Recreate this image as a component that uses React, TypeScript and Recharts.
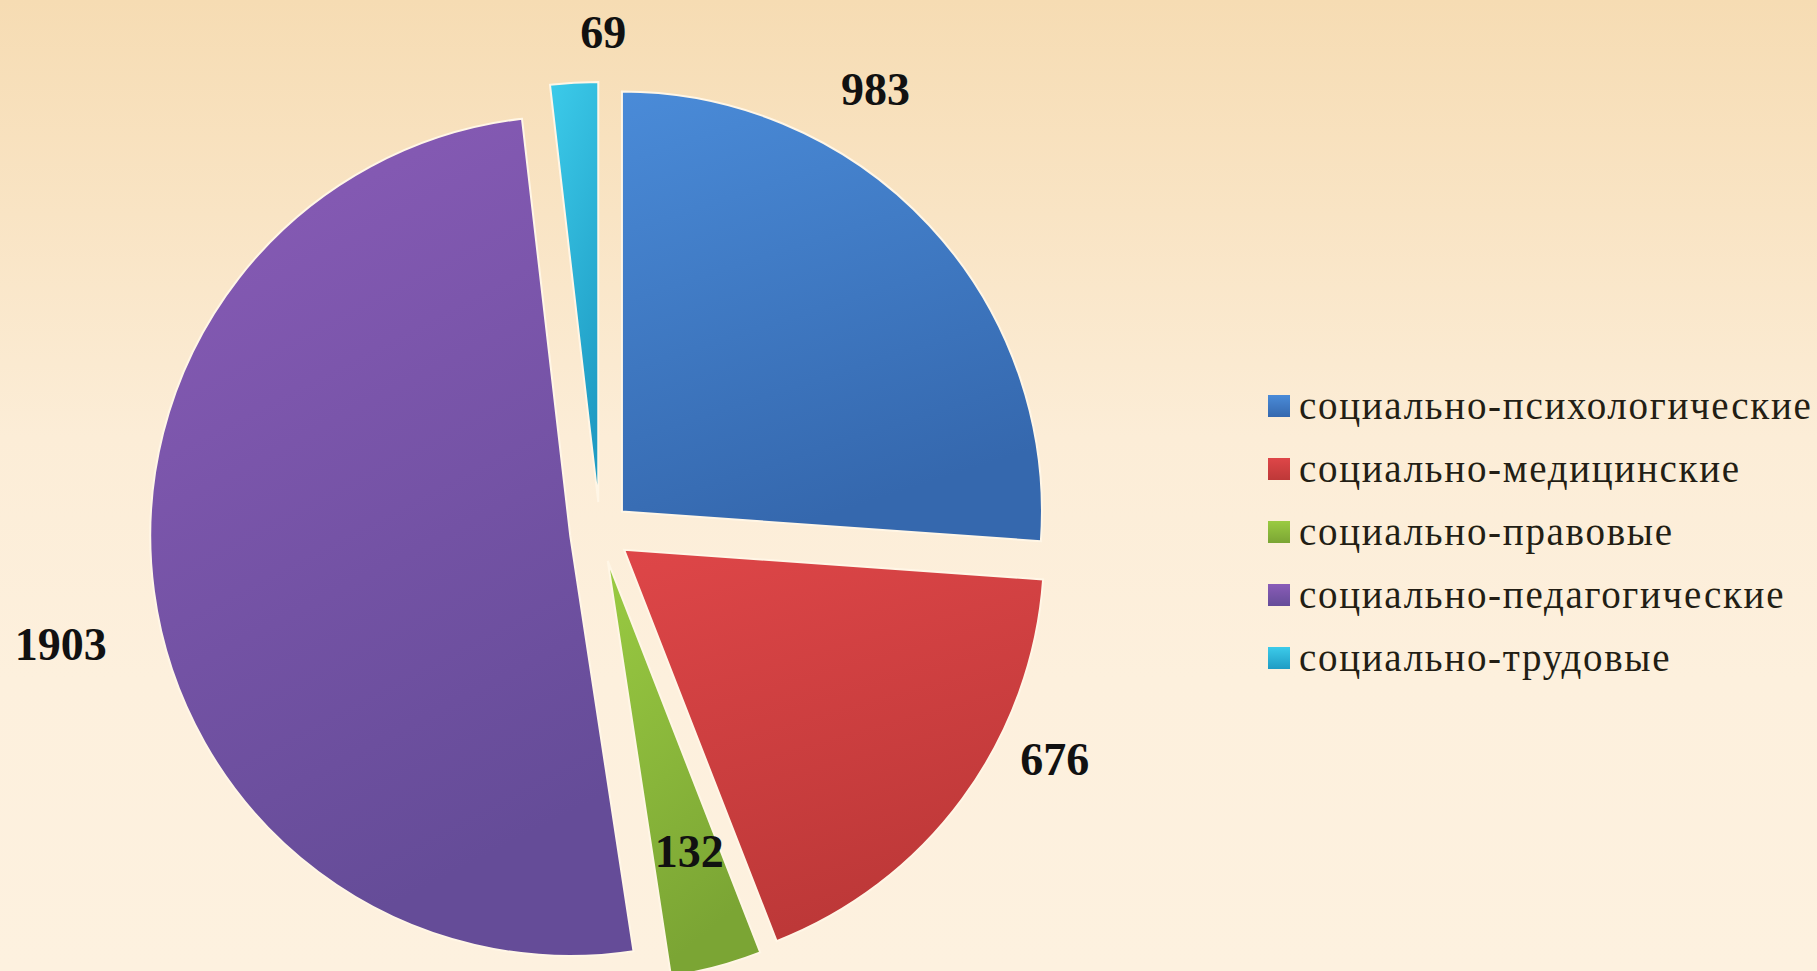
import React from "react";
import { PieChart, Pie, Cell, Legend } from "recharts";

const categories = [
  "социально-психологические",
  "социально-медицинские",
  "социально-правовые",
  "социально-педагогические",
  "социально-трудовые",
];
const values = [983, 676, 132, 1903, 69];

// colours: [top, bottom] of each slice gradient, plus legend swatch
const sliceColors = [
  ["#4a8bd8", "#3568ae"],
  ["#de4648", "#bd3838"],
  ["#9acb42", "#7ba534"],
  ["#8a5cb8", "#654c98"],
  ["#3ccbea", "#1f9cc4"],
];

// label placement: angle shift (deg, clockwise) and distance from slice apex
const labelShift = [-16, -10.4, -0.7, -4.4, 3.9];
const labelRadius = [492, 479, 302, 521, 470];

const W = 1817;
const H = 971;
const CX = 600;
const CY = 532;
const R = 420;
const EXPLODE = 30;

const rows = categories.map((name, i) => ({ name, value: values[i] }));
const total = values.reduce((a, b) => a + b, 0);

// mid angle of each slice, clockwise from 12 o'clock
const midAngles = values.map((v, i) => {
  const before = values.slice(0, i).reduce((a, b) => a + b, 0);
  return ((before + v / 2) / total) * 360;
});

const RAD = Math.PI / 180;

function makeLabel(idx: number) {
  return (props: any) => {
    if (props.index !== idx) return null;
    const theta = midAngles[idx] + labelShift[idx];
    const r = labelRadius[idx];
    const x = props.cx + r * Math.sin(theta * RAD);
    const y = props.cy - r * Math.cos(theta * RAD);
    return (
      <text
        x={x}
        y={y}
        textAnchor="middle"
        dominantBaseline="central"
        fontFamily="'Liberation Serif', 'Times New Roman', serif"
        fontWeight="bold"
        fontSize={46}
        fill="#111"
      >
        {values[idx]}
      </text>
    );
  };
}

function LegendBox() {
  return (
    <div style={{ fontFamily: "'Liberation Serif', 'Times New Roman', serif" }}>
      {categories.map((c, i) => (
        <div
          key={c}
          style={{ display: "flex", alignItems: "center", height: 63, whiteSpace: "nowrap" }}
        >
          <span
            style={{
              display: "inline-block",
              width: 22,
              height: 22,
              marginRight: 9,
              background: `linear-gradient(180deg, ${sliceColors[i][0]}, ${sliceColors[i][1]})`,
            }}
          />
          <span style={{ fontSize: 39, letterSpacing: 1.7, color: "#231e14" }}>{c}</span>
        </div>
      ))}
    </div>
  );
}

export default function App() {
  return (
    <div
      style={{
        position: "absolute",
        left: 0,
        top: 0,
        width: W,
        height: H,
        overflow: "hidden",
        background:
          "linear-gradient(180deg, #f6dcb3 0%, #f9e4c4 22%, #fcedd7 45%, #fdf0dd 70%, #fdf1df 100%)",
      }}
    >
      <svg width={0} height={0} style={{ position: "absolute" }}>
        <defs>
          {sliceColors.map((c, i) => (
            <linearGradient key={i} id={`slice${i}`} x1="0" y1="0" x2="0.3" y2="1">
              <stop offset="0%" stopColor={c[0]} />
              <stop offset="100%" stopColor={c[1]} />
            </linearGradient>
          ))}
        </defs>
      </svg>
      <PieChart width={W} height={H} margin={{ top: 0, right: 0, bottom: 0, left: 0 }}>
        {values.map((_, idx) => {
          const m = midAngles[idx];
          const cx = CX + EXPLODE * Math.sin(m * RAD);
          const cy = CY - EXPLODE * Math.cos(m * RAD);
          return (
            <Pie
              key={idx}
              data={rows}
              dataKey="value"
              nameKey="name"
              cx={cx}
              cy={cy}
              outerRadius={R}
              startAngle={90}
              endAngle={-270}
              isAnimationActive={false}
              labelLine={false}
              label={makeLabel(idx)}
              legendType="none"
            >
              {rows.map((row, i) => (
                <Cell
                  key={row.name}
                  fill={i === idx ? `url(#slice${i})` : "transparent"}
                  stroke={i === idx ? "#fff6e6" : "none"}
                  strokeWidth={i === idx ? 2 : 0}
                />
              ))}
            </Pie>
          );
        })}
        <Legend
          layout="vertical"
          content={() => <LegendBox />}
          wrapperStyle={{ left: 1268, top: 374, width: 549, bottom: "auto" }}
        />
      </PieChart>
    </div>
  );
}
